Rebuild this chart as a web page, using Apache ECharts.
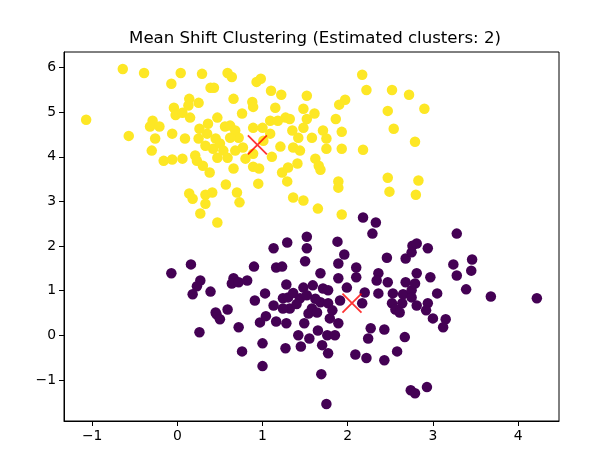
<!DOCTYPE html>
<html>
<head>
<meta charset="utf-8">
<script src="https://cdn.jsdelivr.net/npm/echarts@6/dist/echarts.min.js"></script>
<style>
  html, body { margin: 0; padding: 0; background: #fff; }
  #meanShiftChart { width: 596px; height: 453px; }
</style>
</head>
<body>
<div id="meanShiftChart"></div>
<script>
/* 图表标题 */
var chartTitle = 'Mean Shift Clustering (Estimated clusters: 2)';

/* 刻度 */
var xTicks = [-1, 0, 1, 2, 3, 4];
var yTicks = [-1, 0, 1, 2, 3, 4, 5, 6];

/* 簇 1 (黄色) 的点 [x, y] */
var clusterUpper = [
    [-0.64, 5.97], [-0.39, 5.88], [0.04, 5.88], [-0.07, 5.64], [-1.07, 4.83], [-0.29, 4.81],
    [-0.32, 4.68], [-0.21, 4.68], [-0.57, 4.47], [-0.06, 4.52], [-0.26, 4.41], [0.09, 4.41],
    [0.14, 5.30], [-0.04, 5.10], [-0.02, 4.94], [0.06, 4.99], [0.15, 4.88], [0.13, 5.15],
    [0.29, 5.86], [0.59, 5.88], [0.64, 5.79], [0.93, 5.68], [0.98, 5.75], [0.39, 5.55],
    [0.43, 5.55], [1.10, 5.48], [1.22, 5.39], [0.66, 5.30], [0.88, 5.23], [0.89, 5.12],
    [0.25, 5.21], [1.15, 5.10], [1.48, 5.08], [1.52, 5.37], [0.76, 4.97], [0.47, 4.88],
    [0.36, 4.74], [0.26, 4.63], [0.56, 4.68], [0.62, 4.70], [0.68, 4.59], [0.89, 4.65],
    [1.00, 4.65], [1.09, 4.81], [1.18, 4.81], [1.27, 4.88], [1.32, 4.85], [1.35, 4.59],
    [1.48, 4.65], [1.42, 4.43], [1.09, 4.52], [0.25, 4.41], [0.45, 4.41], [0.72, 4.43],
    [0.62, 4.43], [2.17, 5.84], [2.22, 5.50], [2.52, 5.50], [2.72, 5.39], [2.90, 5.08],
    [2.47, 5.03], [2.54, 4.63], [1.97, 5.28], [1.90, 5.17], [1.61, 4.97], [1.52, 4.85],
    [1.86, 4.85], [1.71, 4.59], [1.93, 4.56], [1.58, 4.43], [1.75, 4.41], [2.79, 4.34],
    [-0.30, 4.14], [-0.16, 3.91], [-0.06, 3.94], [0.06, 3.96], [0.21, 4.03], [0.14, 3.18],
    [0.18, 3.06], [0.42, 4.18], [0.50, 4.30], [0.54, 4.14], [0.47, 3.98], [0.59, 3.98],
    [0.68, 4.14], [0.89, 4.07], [0.23, 3.91], [0.30, 3.80], [0.38, 3.65], [0.66, 3.74],
    [0.89, 3.78], [0.96, 3.74], [1.21, 4.23], [1.11, 4.00], [1.36, 4.21], [1.44, 4.14],
    [1.41, 3.85], [1.30, 3.76], [1.23, 3.65], [1.29, 3.45], [0.57, 3.38], [0.95, 3.40],
    [0.70, 3.20], [0.73, 2.98], [0.33, 3.15], [0.41, 3.20], [0.33, 2.95], [0.27, 2.73],
    [0.47, 2.53], [1.36, 3.09], [1.48, 3.02], [1.75, 4.18], [1.93, 4.18], [2.18, 4.16],
    [1.62, 3.96], [1.66, 3.80], [1.68, 3.71], [1.89, 3.45], [1.89, 3.31], [2.47, 3.53],
    [2.49, 3.22], [2.83, 3.47], [2.80, 3.15], [1.65, 2.84], [1.93, 2.71], [0.33, 4.25],
    [0.77, 4.21], [0.80, 3.96], [0.35, 4.52], [1.01, 4.36]
];

/* 簇 0 (紫色) 的点 [x, y] */
var clusterLower = [
    [-0.07, 1.39], [0.16, 1.59], [0.27, 1.23], [0.23, 1.10], [0.18, 0.92], [0.39, 0.98],
    [0.66, 1.28], [0.64, 1.16], [0.72, 1.19], [0.82, 1.23], [0.90, 1.54], [1.13, 1.95],
    [1.29, 2.08], [1.16, 1.52], [1.23, 1.54], [1.28, 1.14], [1.24, 0.83], [1.13, 0.67],
    [0.59, 0.58], [0.45, 0.51], [2.18, 2.64], [2.33, 2.53], [2.29, 2.28], [1.52, 2.21],
    [1.52, 1.95], [1.50, 1.66], [1.88, 2.10], [1.96, 1.81], [1.89, 1.61], [2.10, 1.52],
    [2.10, 1.30], [1.89, 1.28], [1.68, 1.39], [2.46, 1.74], [2.68, 1.72], [2.75, 1.86],
    [2.76, 2.01], [2.36, 1.39], [2.34, 1.23], [2.47, 1.19], [2.68, 1.19], [1.48, 1.07],
    [1.59, 1.12], [1.71, 1.05], [1.77, 1.01], [1.99, 1.07], [2.20, 0.96], [2.36, 0.94],
    [2.53, 0.94], [2.65, 0.92], [2.75, 1.01], [1.30, 0.85], [1.44, 0.83], [1.68, 0.74],
    [1.77, 0.72], [1.91, 0.78], [2.17, 0.72], [2.52, 0.72], [2.64, 0.72], [1.32, 0.60],
    [1.58, 0.60], [3.28, 2.28], [2.81, 2.06], [2.94, 1.95], [3.24, 1.59], [3.46, 1.70],
    [3.45, 1.45], [3.28, 1.34], [2.81, 1.39], [2.97, 1.30], [2.79, 1.16], [3.39, 1.03],
    [3.05, 0.94], [3.68, 0.87], [4.22, 0.83], [2.94, 0.72], [2.75, 0.85], [2.81, 0.67],
    [0.46, 0.47], [0.50, 0.36], [0.26, 0.07], [0.72, 0.18], [0.76, -0.36], [1.00, -0.18],
    [1.00, -0.69], [0.97, 0.29], [1.04, 0.43], [1.16, 0.31], [1.28, 0.27], [1.27, -0.29],
    [1.24, 0.60], [1.54, 0.49], [1.64, 0.51], [1.49, 0.27], [1.42, 0.00], [1.45, -0.25],
    [1.55, -0.07], [1.65, 0.11], [1.70, -0.22], [1.77, -0.40], [1.76, 0.00], [1.85, 0.00],
    [1.89, 0.27], [1.79, 0.38], [1.82, 0.56], [1.69, -0.87], [1.75, -1.54], [2.09, -0.43],
    [2.22, -0.51], [2.43, -0.56], [2.24, -0.07], [2.27, 0.16], [2.43, 0.13], [2.58, -0.36],
    [2.67, -0.04], [2.56, 0.58], [2.61, 0.51], [2.74, -1.23], [2.79, -1.30], [2.92, 0.56],
    [3.00, 0.38], [3.15, 0.36], [3.12, 0.18], [2.93, -1.16], [0.91, 0.78], [1.03, 0.94],
    [1.36, 0.95], [1.52, 0.90], [1.40, 0.70], [1.62, 0.82]
];

/* 簇中心 */
var clusterCenters = [[2.05, 0.72], [0.94, 4.27]];

/**
 * @desc 页面初始化
 */
window.onload = function () {
    drawMeanShiftChart();
};

/**
 * 画散点图
 */
function drawMeanShiftChart() {
    var chart = echarts.init(document.getElementById('meanShiftChart'), null, { renderer: 'canvas' });
    var fontName = 'DejaVu Sans';
    // 刻度标签用 unicode 减号
    var tickFormatter = function (v) {
        return String(v).replace('-', '\u2212');
    };

    var option = {
        backgroundColor: '#ffffff',
        animation: false,
        title: {
            text: chartTitle,
            left: 310,
            top: 25,
            textAlign: 'center',
            textStyle: { fontFamily: fontName, fontSize: 16.6, fontWeight: 'normal', color: '#000' }
        },
        grid: {
            left: 64,
            top: 52,
            width: 495,
            height: 369,
            show: true,
            borderColor: '#000',
            borderWidth: 1,
            backgroundColor: 'transparent'
        },
        xAxis: {
            type: 'value',
            min: -1.33,
            max: 4.48,
            splitLine: { show: false },
            axisLine: { show: true, onZero: false, lineStyle: { color: '#000', width: 1 } },
            axisTick: { show: true, length: 5, customValues: xTicks, lineStyle: { color: '#000' } },
            axisLabel: {
                customValues: xTicks,
                formatter: tickFormatter,
                margin: 8,
                fontFamily: fontName,
                fontSize: 13.9,
                color: '#000'
            }
        },
        yAxis: {
            type: 'value',
            min: -1.92,
            max: 6.35,
            splitLine: { show: false },
            axisLine: { show: true, onZero: false, lineStyle: { color: '#000', width: 1 } },
            axisTick: { show: true, length: 5, customValues: yTicks, lineStyle: { color: '#000' } },
            axisLabel: {
                customValues: yTicks,
                formatter: tickFormatter,
                margin: 8,
                fontFamily: fontName,
                fontSize: 13.9,
                color: '#000'
            }
        },
        series: [
            {
                name: 'cluster 0',
                type: 'scatter',
                data: clusterLower,
                symbol: 'circle',
                symbolSize: 10.5,
                itemStyle: { color: '#440154', opacity: 1 }
            },
            {
                name: 'cluster 1',
                type: 'scatter',
                data: clusterUpper,
                symbol: 'circle',
                symbolSize: 10.5,
                itemStyle: { color: '#fde725', opacity: 1 }
            },
            {
                name: 'centers',
                type: 'scatter',
                data: clusterCenters,
                symbol: 'path://M0,0L10,10M10,0L0,10',
                symbolSize: 19,
                z: 10,
                itemStyle: { color: 'none', borderColor: '#ff0000', borderWidth: 1.8 }
            }
        ]
    };
    chart.setOption(option, true);
}
</script>
</body>
</html>
